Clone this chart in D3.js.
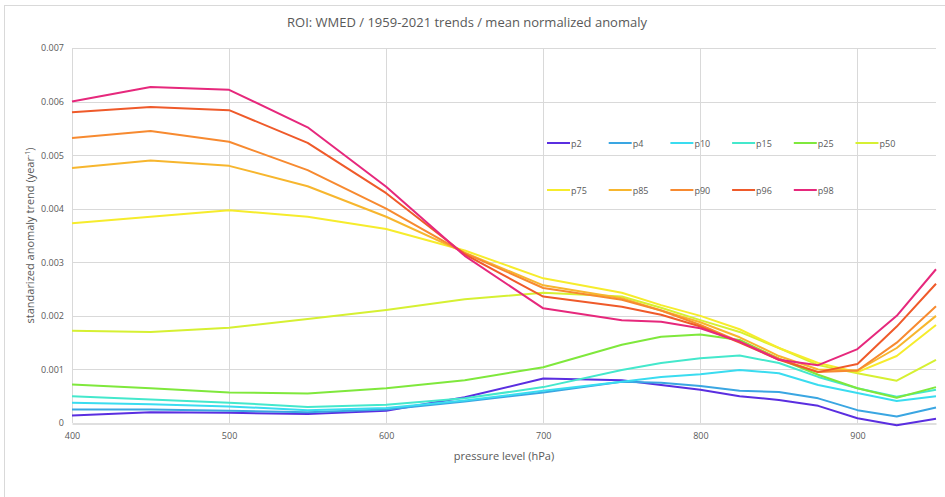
<!DOCTYPE html>
<html>
<head>
<meta charset="utf-8">
<script src="https://cdn.jsdelivr.net/npm/d3@7"></script>
<style>
  html, body { margin: 0; padding: 0; background: #fff; }
  svg { display: block; }
  text { font-family: "Open Sans", "Noto Sans", sans-serif; fill: #595959; }
</style>
</head>
<body>
<svg id="chart" width="945" height="497"></svg>
<script>
// Pressure levels (hPa)
const levels = [400, 450, 500, 550, 600, 650, 700, 750, 775, 800, 825, 850, 875, 900, 925, 950];

// Mean normalized anomaly trends (year^-1) per percentile
const p2  = [0.00014, 0.00020, 0.00019, 0.00017, 0.00023, 0.00048, 0.00083, 0.00080, 0.00071, 0.00062, 0.00050, 0.00043, 0.00032, 0.00009, -0.00004, 0.00008];
const p4  = [0.00025, 0.00025, 0.00023, 0.00020, 0.00025, 0.00040, 0.00057, 0.00077, 0.00075, 0.00069, 0.00060, 0.00058, 0.00046, 0.00024, 0.00012, 0.00029];
const p10 = [0.00038, 0.00035, 0.00031, 0.00024, 0.00028, 0.00042, 0.00060, 0.00077, 0.00086, 0.00091, 0.00099, 0.00093, 0.00071, 0.00056, 0.00041, 0.00050];
const p15 = [0.00050, 0.00044, 0.00038, 0.00030, 0.00034, 0.00046, 0.00067, 0.00099, 0.00112, 0.00121, 0.00126, 0.00112, 0.00086, 0.00065, 0.00049, 0.00062];
const p25 = [0.00072, 0.00065, 0.00057, 0.00055, 0.00065, 0.00080, 0.00104, 0.00146, 0.00161, 0.00165, 0.00155, 0.00120, 0.00090, 0.00065, 0.00047, 0.00067];
const p50 = [0.00172, 0.00170, 0.00178, 0.00194, 0.00211, 0.00231, 0.00243, 0.00236, 0.00215, 0.00192, 0.00170, 0.00140, 0.00108, 0.00093, 0.00079, 0.00118];
const p75 = [0.00373, 0.00385, 0.00397, 0.00385, 0.00362, 0.00322, 0.00270, 0.00243, 0.00220, 0.00200, 0.00175, 0.00140, 0.00112, 0.00095, 0.00125, 0.00183];
const p85 = [0.00476, 0.00490, 0.00480, 0.00442, 0.00385, 0.00318, 0.00257, 0.00233, 0.00210, 0.00188, 0.00160, 0.00125, 0.00100, 0.00098, 0.00140, 0.00200];
const p90 = [0.00532, 0.00545, 0.00525, 0.00472, 0.00400, 0.00317, 0.00252, 0.00230, 0.00210, 0.00183, 0.00152, 0.00120, 0.00095, 0.00098, 0.00150, 0.00218];
const p96 = [0.00580, 0.00590, 0.00584, 0.00523, 0.00429, 0.00315, 0.00236, 0.00217, 0.00202, 0.00180, 0.00150, 0.00118, 0.00095, 0.00110, 0.00180, 0.00260];
const p98 = [0.00600, 0.00627, 0.00622, 0.00552, 0.00441, 0.00312, 0.00214, 0.00192, 0.00189, 0.00177, 0.00152, 0.00118, 0.00108, 0.00138, 0.00200, 0.00287];

const seriesNames = ["p2", "p4", "p10", "p15", "p25", "p50", "p75", "p85", "p90", "p96", "p98"];
const seriesValues = [p2, p4, p10, p15, p25, p50, p75, p85, p90, p96, p98];
const seriesColors = ["#5a2ee0", "#3aa6e2", "#3adcf0", "#44e8cc", "#7fe83c", "#d6f032", "#f6ec2c", "#f7b62e", "#f78a30", "#ef5a2a", "#e6287c"];

const yTicks = [0, 0.001, 0.002, 0.003, 0.004, 0.005, 0.006, 0.007];
const xTicks = [400, 500, 600, 700, 800, 900];

const titleText = "ROI: WMED / 1959-2021 trends / mean normalized anomaly";
const xTitle = "pressure level (hPa)";

const W = 945, H = 497;
const margin = { top: 48, right: 9, bottom: 74, left: 72 };

const svg = d3.select("#chart");

// chart frame
svg.append("rect")
  .attr("x", 4.5).attr("y", 5.5)
  .attr("width", W + 10).attr("height", H + 10)
  .attr("fill", "#fff").attr("stroke", "#d9d9d9");

const x = d3.scaleLinear().domain([400, 950]).range([margin.left, W - margin.right]);
const y = d3.scaleLinear().domain([0, 0.007]).range([H - margin.bottom, margin.top]);

// grid
const grid = svg.append("g");
grid.selectAll("line.h").data(yTicks.filter(d => d > 0)).join("line")
  .attr("x1", x(400)).attr("x2", x(950))
  .attr("y1", d => Math.round(y(d)) + 0.5).attr("y2", d => Math.round(y(d)) + 0.5)
  .attr("stroke", "#d9d9d9").attr("stroke-width", 1);
grid.selectAll("line.v").data(xTicks).join("line")
  .attr("x1", d => Math.round(x(d)) + 0.5).attr("x2", d => Math.round(x(d)) + 0.5)
  .attr("y1", y(0.007)).attr("y2", y(0))
  .attr("stroke", "#d9d9d9").attr("stroke-width", 1);

// x axis
const xAxis = d3.axisBottom(x).tickValues(xTicks).tickSize(0).tickPadding(9).tickFormat(d3.format("d"));
const gx = svg.append("g")
  .attr("transform", `translate(0,${Math.round(y(0)) + 0.5})`)
  .call(xAxis);
gx.select(".domain").attr("stroke", "#bfbfbf");
gx.selectAll("text").style("font-size", "9px").attr("fill", "#595959");

// y axis
const yAxis = d3.axisLeft(y).tickValues(yTicks).tickSize(0).tickPadding(8)
  .tickFormat(d => d === 0 ? "0" : d3.format(".3f")(d));
const gy = svg.append("g")
  .attr("transform", `translate(${margin.left},0)`)
  .call(yAxis);
gy.select(".domain").remove();
gy.selectAll("text").style("font-size", "9px").attr("fill", "#595959");

// series lines
const line = d3.line()
  .x((d, i) => x(levels[i]))
  .y(d => y(d));

svg.append("g").selectAll("path").data(seriesValues).join("path")
  .attr("d", d => line(d))
  .attr("fill", "none")
  .attr("stroke", (d, i) => seriesColors[i])
  .attr("stroke-width", 2)
  .attr("stroke-linejoin", "round");

// title
svg.append("text")
  .attr("x", 467).attr("y", 27)
  .attr("text-anchor", "middle")
  .style("font-size", "13px")
  .text(titleText);

// axis titles
svg.append("text")
  .attr("x", (x(400) + x(950)) / 2).attr("y", 460)
  .attr("text-anchor", "middle")
  .style("font-size", "11px")
  .text(xTitle);

const yt = svg.append("text")
  .attr("transform", `translate(34,${(y(0) + y(0.007)) / 2}) rotate(-90)`)
  .attr("text-anchor", "middle")
  .style("font-size", "11px");
yt.append("tspan").text("standarized anomaly trend (year");
yt.append("tspan").attr("dy", -4).style("font-size", "7px").text("-1");
yt.append("tspan").attr("dy", 4).text(")");

// legend
const legend = svg.append("g");
const legItems = legend.selectAll("g").data(seriesNames).join("g")
  .attr("transform", (d, i) => {
    const col = i % 6, row = Math.floor(i / 6);
    return `translate(${547 + col * 61.7},${143 + row * 47})`;
  });
legItems.append("line")
  .attr("x1", 0).attr("x2", 23).attr("y1", 0).attr("y2", 0)
  .attr("stroke", (d, i) => seriesColors[i]).attr("stroke-width", 2);
legItems.append("text")
  .attr("x", 24).attr("y", 3.5)
  .style("font-size", "9px")
  .text(d => d);
</script>
</body>
</html>
